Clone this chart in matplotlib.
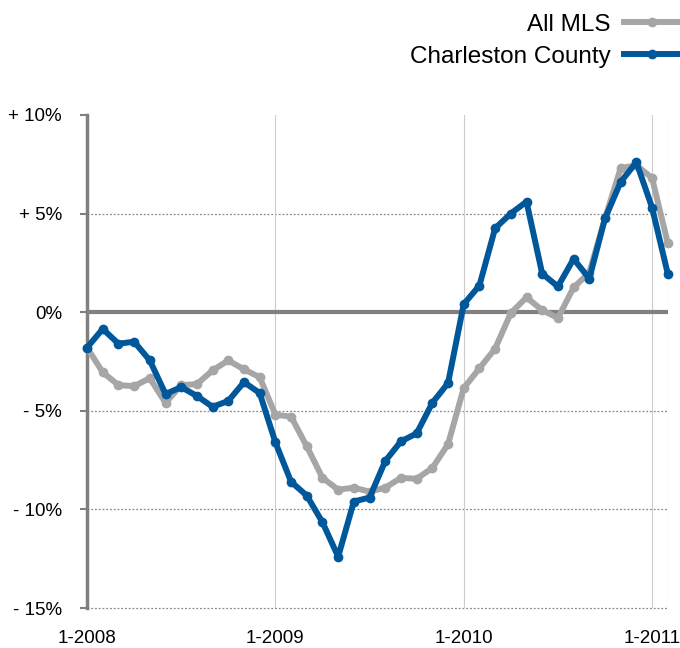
import numpy as np
import pandas as pd
import matplotlib
matplotlib.use("Agg")
import matplotlib.pyplot as plt

# Meses: enero 2008 a febrero 2011
months = pd.date_range("2008-01-01", periods=38, freq="MS")

# Variacion interanual (%)
all_mls = [-1.8, -3.05, -3.7, -3.75, -3.35, -4.6, -3.7, -3.65, -2.95, -2.45,
           -2.9, -3.3, -5.2, -5.3, -6.8, -8.4, -9.0, -8.9, -9.1, -8.9,
           -8.4, -8.45, -7.9, -6.7, -3.85, -2.85, -1.85, -0.05, 0.75, 0.1,
           -0.3, 1.25, 2.0, 4.75, 7.3, 7.45, 6.8, 3.5]
charleston = [-1.8, -0.85, -1.6, -1.5, -2.45, -4.15, -3.8, -4.25, -4.8, -4.5,
              -3.55, -4.1, -6.6, -8.6, -9.3, -10.65, -12.4, -9.6, -9.4, -7.55,
              -6.55, -6.15, -4.6, -3.6, 0.4, 1.35, 4.25, 5.0, 5.6, 1.95,
              1.3, 2.7, 1.7, 4.75, 6.6, 7.6, 5.3, 1.95]

y_ticks = [10, 5, 0, -5, -10, -15]
y_labels = ["+ 10%", "+ 5%", "0%", "- 5%", "- 10%", "- 15%"]
x_ticks = [0, 12, 24, 36]
x_labels = ["1-2008", "1-2009", "1-2010", "1-2011"]

plt.rcParams["font.family"] = ["Liberation Sans", "DejaVu Sans"]

fig = plt.figure(figsize=(6.8, 6.48), dpi=100)
ax = fig.add_axes([0.128, 0.0617, 0.854, 0.761])

x = np.arange(len(months))
gris = "#a6a6a6"
azul = "#00589b"

ax.plot(x, all_mls, color=gris, lw=4.3, marker="o", ms=6, label="All MLS",
        solid_joinstyle="round", zorder=3, clip_on=False)
ax.plot(x, charleston, color=azul, lw=4.3, marker="o", ms=6,
        label="Charleston County", solid_joinstyle="round", zorder=4,
        clip_on=False)

ax.set_xlim(0, 37)
ax.set_ylim(-15, 10)

# Rejilla
for yv in [5, -5, -10, -15]:
    ax.axhline(yv, color="#888888", lw=0.9, ls=(0, (1.5, 1.5)), zorder=1,
               clip_on=False)
ax.axhline(0, color="#808080", lw=3, zorder=2)
for xv in [12, 24, 36]:
    ax.axvline(xv, color="#cccccc", lw=0.8, zorder=1)
ax.axvline(37, color="#999999", lw=0.8, ls=(0, (1.5, 1.5)), zorder=1)

for s in ["top", "right", "bottom"]:
    ax.spines[s].set_visible(False)
ax.spines["left"].set_color("#808080")
ax.spines["left"].set_linewidth(2.5)

ax.set_yticks(y_ticks)
ax.set_yticklabels(y_labels, fontsize=13.5)
ax.tick_params(axis="y", length=5, width=1.5, color="#808080", pad=13)
ax.set_xticks(x_ticks)
ax.set_xticklabels(x_labels, fontsize=13.5)
ax.tick_params(axis="x", length=0, pad=16)

fig.legend(loc="upper right", bbox_to_anchor=(1.0, 0.979), frameon=False,
           markerfirst=False, fontsize=17.5, handlelength=2.3,
           handletextpad=0.55, labelspacing=0.42, borderaxespad=0,
           borderpad=0)

plt.savefig("out.png", dpi=100)
plt.close()
